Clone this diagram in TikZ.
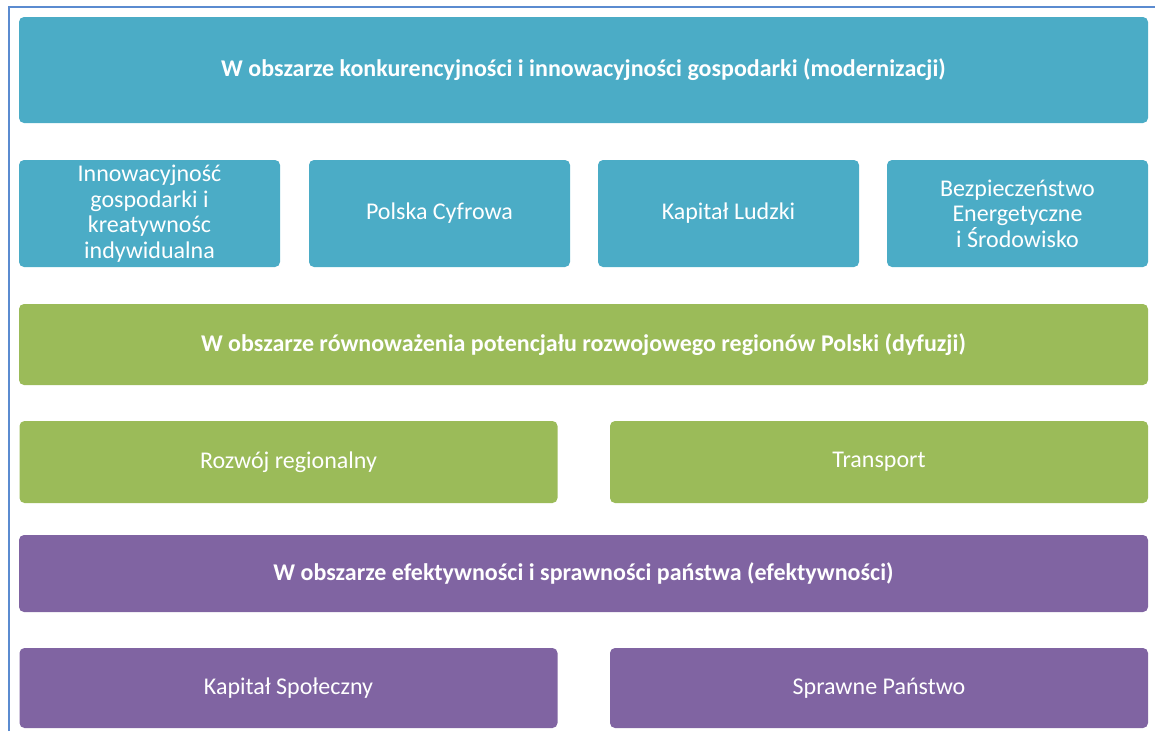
\documentclass[tikz,border=0pt]{standalone}
\usepackage{fontspec}
\setmainfont{Carlito}

\definecolor{obszarBlue}{HTML}{4BACC6}
\definecolor{obszarGreen}{HTML}{9BBB59}
\definecolor{obszarPurple}{HTML}{8064A2}
\definecolor{frameBlue}{HTML}{5B8BD0}

\begin{document}
\begin{tikzpicture}[x=1pt,y=-1pt,
    box/.style={rectangle,rounded corners=5pt,inner sep=0pt,text=white,
        align=center,font=\fontsize{24}{25.5}\selectfont},
    band/.style={box,minimum width=1129pt,font=\bfseries\fontsize{24}{25.5}\selectfont},
    quarter/.style={box,minimum width=261pt,minimum height=107pt},
    half/.style={box,minimum width=538pt}]
                \useasboundingbox (0,0) rectangle (1155,731);
                \draw[frameBlue,line width=1.5pt] (9,731) -- (9,7) -- (1155,7);
                % modernizacja
                \node[band,fill=obszarBlue,minimum height=106pt] (konk) at (583.5,70) {W obszarze konkurencyjności i innowacyjności gospodarki (modernizacji)};
                \node[quarter,fill=obszarBlue] (innow) at (149.5,213.5) {Innowacyjność\\gospodarki i\\kreatywnośc\\indywidualna};
                \node[quarter,fill=obszarBlue] (cyfr) at (439.5,213.5) {Polska Cyfrowa};
                \node[quarter,fill=obszarBlue] (kapl) at (728.5,213.5) {Kapitał Ludzki};
                \node[quarter,fill=obszarBlue] (bezp) at (1017.5,213.5) {Bezpieczeństwo\\Energetyczne\\i Środowisko};
                % dyfuzja
                \node[band,fill=obszarGreen,minimum height=81pt] (rown) at (583.5,344.5) {W obszarze równoważenia potencjału rozwojowego regionów Polski (dyfuzji)};
                \node[half,fill=obszarGreen,minimum height=82pt] (regi) at (288.5,462) {Rozwój regionalny};
                \node[half,fill=obszarGreen,minimum height=82pt] (trans) at (879,462) {Transport};
                % efektywnosc
                \node[band,fill=obszarPurple,minimum height=77pt] (efek) at (583.5,573.5) {W obszarze efektywności i sprawności państwa (efektywności)};
                \node[half,fill=obszarPurple,minimum height=80pt] (kaps) at (288.5,688) {Kapitał Społeczny};
                \node[half,fill=obszarPurple,minimum height=80pt] (spraw) at (879,688) {Sprawne Państwo};
            \end{tikzpicture}
\end{document}
